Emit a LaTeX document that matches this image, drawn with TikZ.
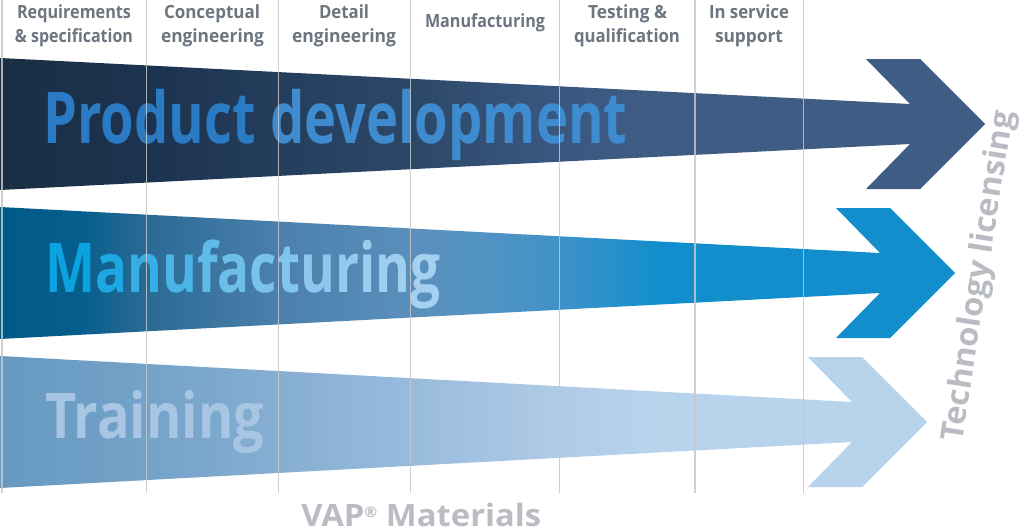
\documentclass[tikz,border=0pt]{standalone}
\usepackage{graphicx}
\usepackage{fontspec}
\setmainfont{Open Sans}
\definecolor{hdrgray}{HTML}{6D7580}
\definecolor{gridgray}{HTML}{C8C8C8}
\definecolor{lightgray2}{HTML}{B9BDC3}
\definecolor{pdA}{HTML}{2A7BC4}
\definecolor{pdB}{HTML}{3F8BD0}
\definecolor{mfA}{HTML}{0BA2E0}
\definecolor{mfB}{HTML}{A6D0F0}
\definecolor{trtext}{HTML}{A8C6E4}
\definecolor{t0}{HTML}{1A2E44}\definecolor{t1}{HTML}{1C3350}\definecolor{t2}{HTML}{2C4868}\definecolor{t3}{HTML}{3A5780}\definecolor{t4}{HTML}{3F5C84}
\definecolor{m0}{HTML}{005A88}\definecolor{m1}{HTML}{065E8C}\definecolor{m2}{HTML}{2A6A95}\definecolor{m3}{HTML}{4A80AB}\definecolor{m4}{HTML}{5A8FBC}\definecolor{m5}{HTML}{5594C2}\definecolor{m6}{HTML}{4092C8}\definecolor{m7}{HTML}{128ECD}
\definecolor{b0}{HTML}{6699C2}\definecolor{b1}{HTML}{74A2C8}\definecolor{b2}{HTML}{86AED2}\definecolor{b3}{HTML}{98BBDD}\definecolor{b4}{HTML}{B0CBE6}\definecolor{b5}{HTML}{B8D3EC}
\pgfdeclarehorizontalshading{topshade}{100bp}{color(0bp)=(t0); color(25bp)=(t0); color(32.6bp)=(t1); color(45.8bp)=(t2); color(53.4bp)=(t3); color(58bp)=(t4); color(100bp)=(t4)}
\pgfdeclarehorizontalshading{midshade}{100bp}{color(0bp)=(m0); color(25bp)=(m0); color(29.2bp)=(m1); color(32.6bp)=(m2); color(39.5bp)=(m3); color(46.4bp)=(m4); color(49.6bp)=(m5); color(54.2bp)=(m6); color(59.5bp)=(m7); color(100bp)=(m7)}
\pgfdeclarehorizontalshading{botshade}{100bp}{color(0bp)=(b0); color(25bp)=(b0); color(32.9bp)=(b1); color(40bp)=(b2); color(47.1bp)=(b3); color(55.2bp)=(b4); color(60.1bp)=(b5); color(100bp)=(b5)}
\newlength\fitlen
\newcommand\fitto[2]{\settowidth{\fitlen}{#2}\pgfmathsetmacro\fitsx{(#1)*0.75/\fitlen}\scalebox{\fitsx}[1]{#2}}
\newcommand\mfc[2]{\textcolor{mfB!#1!mfA}{#2}}
\newcommand\bandarrow[3]{\shade[shading=#3] (0,#2-66) -- (#1,#2-20) -- (#1-44,#2-65) -- (#1+10,#2-65) -- (#1+75,#2) -- (#1+10,#2+65) -- (#1-44,#2+65) -- (#1,#2+20) -- (0,#2+66) -- cycle;}
\tikzset{
  hdr/.style={anchor=base, inner sep=0pt, text=hdrgray, font=\bfseries\fontsize{13.65}{16}\selectfont},
  bigtext/.style={anchor=base west, inner sep=0pt},
  gridline/.style={draw=gridgray, line width=1pt, opacity=0.85},
}
\begin{document}
\begin{tikzpicture}[x=0.75pt,y=-0.75pt]
\useasboundingbox (0,0) rectangle (1024,529);
\fill[white] (0,0) rectangle (1024,529);
% arrows
\bandarrow{910}{124}{topshade}
\bandarrow{880}{273}{midshade}
\bandarrow{852}{422}{botshade}
% big texts
\node[bigtext, font=\bfseries\fontsize{53.6}{60}\selectfont] (pd) at (43,143) {\fitto{584}{\textcolor{pdA}{Product} \textcolor{pdB}{development}}};
\node[bigtext, font=\bfseries\fontsize{51.5}{58}\selectfont] (mf) at (45,292) {\fitto{395}{\mfc{0}{M}\mfc{12}{a}\mfc{28}{n}\mfc{42}{u}\mfc{55}{f}\mfc{63}{a}\mfc{70}{c}\mfc{77}{t}\mfc{83}{u}\mfc{88}{r}\mfc{92}{i}\mfc{96}{n}\mfc{100}{g}}};
\node[bigtext, font=\bfseries\fontsize{47.3}{54}\selectfont, text=trtext] (tr) at (45,438) {\fitto{219}{Training}};
% header labels
\node[hdr] (h1a) at (74,18.5) {\fitto{114}{Requirements}};
\node[hdr] (h1b) at (74,42) {\fitto{118}{\& specification}};
\node[hdr] (h2a) at (212,18.5) {\fitto{96}{Conceptual}};
\node[hdr] (h2b) at (212.5,42) {\fitto{103}{engineering}};
\node[hdr] (h3a) at (344,18.5) {\fitto{50}{Detail}};
\node[hdr] (h3b) at (344,42) {\fitto{104}{engineering}};
\node[hdr] (h4) at (485,27) {\fitto{120}{Manufacturing}};
\node[hdr] (h5a) at (627.5,18.5) {\fitto{79}{Testing \&}};
\node[hdr] (h5b) at (627,42) {\fitto{106}{qualification}};
\node[hdr] (h6a) at (749,18.5) {\fitto{80}{In service}};
\node[hdr] (h6b) at (749,42) {\fitto{68}{support}};
% side and bottom labels
\node[anchor=base west, inner sep=0pt, rotate=81.2, text=lightgray2, font=\bfseries\fontsize{23.6}{28}\selectfont] (tl) at (962,443) {\fitto{334}{Technology licensing}};
\node[anchor=base west, inner sep=0pt, text=lightgray2, font=\bfseries\fontsize{23.1}{28}\selectfont] (vap) at (301,526.5) {\fitto{240}{VAP\raisebox{6.5pt}{\fontsize{11}{11}\selectfont ®} Materials}};
% grid lines
\foreach \gx in {2,146.5,278.5,410.5,559.3,695,803.3}
  \draw[gridline] (\gx,0) -- (\gx,493);
\end{tikzpicture}
\end{document}
